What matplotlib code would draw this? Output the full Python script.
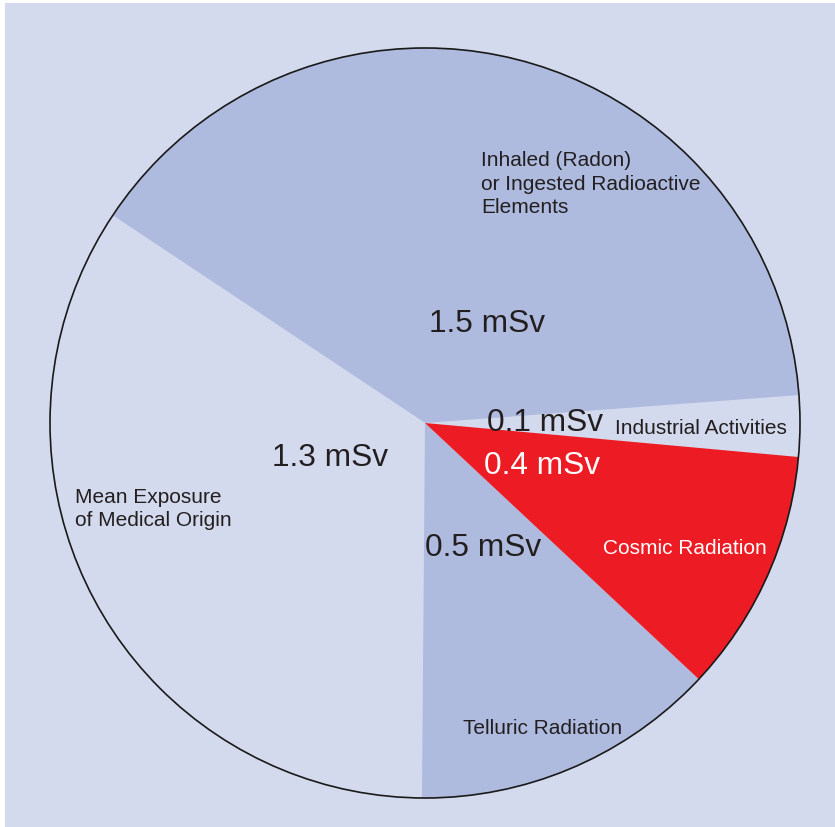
import matplotlib
matplotlib.use("Agg")
import matplotlib.pyplot as plt
from matplotlib.patches import Circle, Rectangle

# Annual radiation exposure by source (mSv)
sources = ["Industrial Activities", "Inhaled (Radon)\nor Ingested Radioactive\nElements",
           "Mean Exposure\nof Medical Origin", "Telluric Radiation", "Cosmic Radiation"]
doses = [0.1, 1.5, 1.3, 0.5, 0.4]
dose_labels = ["0.1 mSv", "1.5 mSv", "1.3 mSv", "0.5 mSv", "0.4 mSv"]

BG = "#d4daed"
BLUE = "#aebbdf"
RED = "#ed1c24"
INK = "#231f20"
colors = [BG, BLUE, BG, BLUE, RED]

W, H = 835, 827
fig = plt.figure(figsize=(W / 100, H / 100), dpi=100, facecolor="white")
ax = fig.add_axes([0, 0, 1, 1])

# panel background with a thin white margin at left and top
ax.add_patch(Rectangle((5, 0), W - 5, H - 3, facecolor=BG, edgecolor="none", zorder=0))

cx, cy, r = 425, H - 423, 375
ax.pie(doses, colors=colors, startangle=-5.2, counterclock=True,
       center=(cx, cy), radius=r, frame=True,
       wedgeprops=dict(linewidth=0, antialiased=True))
ax.set_xlim(0, W)
ax.set_ylim(0, H)
ax.set_aspect("equal")
ax.axis("off")
ax.add_patch(Circle((cx, cy), r, fill=False, edgecolor="#1a1a1a", linewidth=1.2, zorder=5))

font = "Liberation Sans"
small = 15
big = 22.8


def label(x, y, s, size, color=INK, ha="center"):
    ax.text(x, H - y, s, ha=ha, va="center", fontsize=size, family=font,
            color=color, linespacing=1.3, zorder=6)


# source names
label(481, 184, sources[1], small, ha="left")
label(615, 428, sources[0], small, ha="left")
label(685, 548, sources[4], small, color="white")
label(543, 728, sources[3], small)
label(75, 509, sources[2], small, ha="left")

# dose values
label(487, 324, dose_labels[1], big)
label(545, 423, dose_labels[0], big)
label(542, 466, dose_labels[4], big, color="white")
label(483, 548, dose_labels[3], big)
label(330, 458, dose_labels[2], big)

fig.savefig("out.png", dpi=100, facecolor="white")
